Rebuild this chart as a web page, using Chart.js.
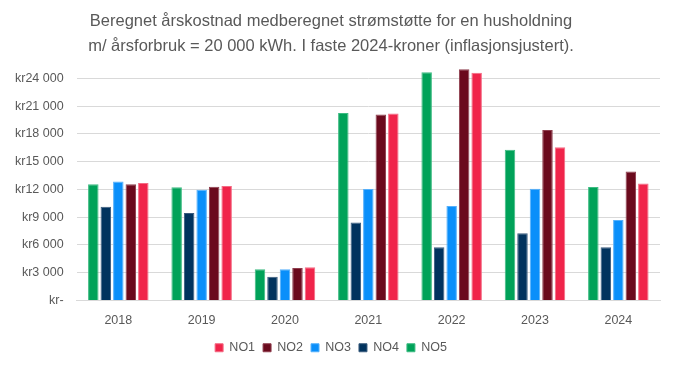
<!DOCTYPE html>
<html lang="no">
<head>
  <meta charset="UTF-8" />
  <title>Beregnet årskostnad</title>
  <style>
    body { margin: 0; background: #fff; }
    #wrap { width: 673px; height: 366px; }
  </style>
</head>
<body>
  <div id="wrap"><canvas id="chart" width="673" height="366"></canvas></div>

  <script src="https://cdn.jsdelivr.net/npm/chart.js"></script>
  <script>
    // years along the x axis
    const years = ['2018', '2019', '2020', '2021', '2022', '2023', '2024'];

    // price areas, values in kr (2024-kroner)
    const no1 = [12700, 12380, 3580, 20200, 24600, 16570, 12630];
    const no2 = [12550, 12300, 3510, 20090, 25000, 18415, 13930];
    const no3 = [12845, 11975, 3365, 12050, 10200, 12085, 8685];
    const no4 = [10130, 9445, 2565, 8430, 5755, 7275, 5755];
    const no5 = [12550, 12225, 3365, 20260, 24650, 16290, 12270];

    const tickValues = [0, 3000, 6000, 9000, 12000, 15000, 18000, 21000, 24000];
    const tickLabels = ['kr-', 'kr3 000', 'kr6 000', 'kr9 000', 'kr12 000', 'kr15 000', 'kr18 000', 'kr21 000', 'kr24 000'];

    const grey = '#595959';
    const font = "'Liberation Sans', Arial, sans-serif";

    function bars(label, data, color, edge) {
      return {
        label: label,
        data: data,
        backgroundColor: color,
        borderColor: edge,
        borderWidth: 1,
        barPercentage: 0.84,
        categoryPercentage: 0.75
      };
    }

    const ctx = document.getElementById('chart').getContext('2d');
    new Chart(ctx, {
      type: 'bar',
      data: {
        labels: years,
        // drawn left to right NO5..NO1, legend reversed to NO1..NO5
        datasets: [
          bars('NO5', no5, '#00a259', '#3dbb82'),
          bars('NO4', no4, '#01335e', '#3a5b7e'),
          bars('NO3', no3, '#0a8ffa', '#55b0fb'),
          bars('NO2', no2, '#6b0a1d', '#8f3e4e'),
          bars('NO1', no1, '#f0244a', '#f46a83')
        ]
      },
      options: {
        responsive: false,
        animation: false,
        layout: { padding: { left: 2, right: 13, top: 0, bottom: 2 } },
        plugins: {
          title: {
            display: true,
            text: ['Beregnet årskostnad medberegnet strømstøtte for en husholdning',
                   'm/ årsforbruk = 20 000 kWh. I faste 2024-kroner (inflasjonsjustert).'],
            color: grey,
            font: { family: font, size: 16.5, weight: 'normal', lineHeight: 1.5 },
            padding: { top: 9, bottom: 6 }
          },
          legend: {
            position: 'bottom',
            reverse: true,
            labels: {
              color: grey,
              font: { family: font, size: 12.5 },
              boxWidth: 8,
              boxHeight: 8,
              padding: 8
            }
          },
          tooltip: { enabled: false }
        },
        scales: {
          x: {
            grid: { display: false },
            border: { color: '#d9d9d9' },
            ticks: { color: grey, font: { family: font, size: 12.5 }, padding: 5 }
          },
          y: {
            min: 0,
            max: 25500,
            afterBuildTicks: function(axis) {
              axis.ticks = tickValues.map(function(v) { return { value: v }; });
            },
            grid: { color: '#d9d9d9', drawTicks: false },
            border: { display: false },
            ticks: {
              color: grey,
              font: { family: font, size: 12.5 },
              padding: 13,
              callback: function(value) {
                const i = tickValues.indexOf(value);
                return i >= 0 ? tickLabels[i] : '';
              }
            }
          }
        }
      }
    });
  </script>
</body>
</html>
